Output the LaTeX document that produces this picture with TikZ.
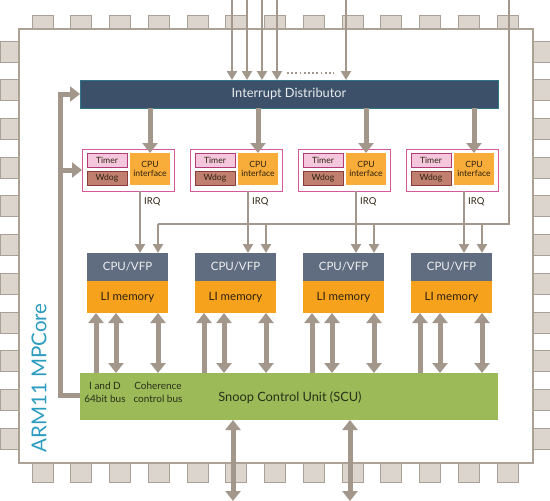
\documentclass[tikz,border=0pt]{standalone}
\usepackage{fontspec}
\setmainfont{Lato}
\usetikzlibrary{arrows.meta}
\definecolor{pinfill}{HTML}{DBD5CE}
\definecolor{pinline}{HTML}{AAA095}
\definecolor{chipline}{HTML}{ACA195}
\definecolor{arrc}{HTML}{A3978B}
\definecolor{distc}{HTML}{3C5169}
\definecolor{cpuc}{HTML}{606D80}
\definecolor{lonec}{HTML}{F6A21D}
\definecolor{cifc}{HTML}{F8AC3A}
\definecolor{timfill}{HTML}{F4C7DC}
\definecolor{timline}{HTML}{B23A78}
\definecolor{wdfill}{HTML}{C1806F}
\definecolor{wdline}{HTML}{8C3B3B}
\definecolor{grpline}{HTML}{D7589A}
\definecolor{scuc}{HTML}{9DBA58}
\definecolor{armc}{HTML}{2C9CC0}
\definecolor{darktxt}{HTML}{2E2210}
\definecolor{scutxt}{HTML}{26301A}
\begin{document}
\begin{tikzpicture}[x=1pt,y=-1pt,
  pin/.style={fill=pinfill,draw=pinline,line width=0.8pt},
  blk/.style={inner sep=0pt,outer sep=0pt,anchor=north west},
  thinarr/.style={draw=arrc,line width=2.2pt,-{Triangle[width=10pt,length=9pt]}},
  thinline/.style={draw=arrc,line width=2.2pt},
  thickarr/.style={draw=arrc,line width=5pt,-{Triangle[width=15pt,length=10pt]}},
  thickdbl/.style={draw=arrc,line width=5pt,{Triangle[width=15pt,length=10pt]}-{Triangle[width=15pt,length=10pt]}},
  lbl/.style={inner sep=0pt,align=center}]
\useasboundingbox (0,0) rectangle (550,501);
% pins
\foreach \k in {0,...,12}{
  \draw[pin] (32+38.75*\k,15) rectangle (53+38.75*\k,29);
  \draw[pin] (32+38.75*\k,463) rectangle (53+38.75*\k,482);
}
\foreach \k in {0,...,10}{
  \draw[pin] (0,41+38.7*\k) rectangle (19,62+38.7*\k);
  \draw[pin] (533,41+38.7*\k) rectangle (551,62+38.7*\k);
}
% chip
\draw[fill=white,draw=chipline,line width=1.2pt] (19,29) rectangle (533,463);
\node[rotate=90,text=armc,font=\fontsize{20.5}{24}\selectfont,inner sep=0pt] (arm) at (39,378) {ARM11 MPCore};
% interrupt distributor
\node[blk,fill=distc,draw=distc!80!cyan,line width=0.6pt,minimum width=418pt,minimum height=28pt] (dist) at (80,80) {};
\node[text=white!88!distc,font=\fontsize{12.8}{14}\selectfont,inner sep=0pt] (disttxt) at (dist.center) {Interrupt Distributor};
% SCU
\node[blk,fill=scuc,minimum width=418pt,minimum height=47pt] (scu) at (80,373) {};
\node[lbl,text=scutxt,font=\fontsize{12.8}{14}\selectfont] (scutxt) at (290,398) {Snoop Control Unit (SCU)};
\node[lbl,text=scutxt,font=\fontsize{10}{13}\selectfont] (iand) at (105,392.5) {I and D\\64bit bus};
\node[lbl,text=scutxt,font=\fontsize{10}{13}\selectfont] (coh) at (158,392.5) {Coherence\\control bus};
% interrupt inputs from top
\foreach \x/\n in {232/a,247/b,262/c,277/d,346/e}{
  \coordinate (in\n) at (\x,0);
  \draw[thinarr] (in\n) -- (in\n |- dist.north);
}
\draw[draw=arrc,line width=1.8pt,dash pattern=on 1.8pt off 2.4pt] (287,73) -- (334,73);
% per-CPU blocks
\foreach \i in {0,1,2,3}{
  \pgfmathsetmacro\gx{82+108*\i}
  \pgfmathsetmacro\cx{87+108*\i}
  \node[blk,draw=grpline,fill=white,line width=1pt,minimum width=92pt,minimum height=42pt] (grp\i) at (\gx,149) {};
  \node[blk,draw=timline,fill=timfill,line width=0.7pt,minimum width=40pt,minimum height=14pt] (tim\i) at (\gx+5,153) {};
  \node[text=darktxt,font=\fontsize{8.6}{9}\selectfont,inner sep=0pt] at (tim\i.center) {Timer};
  \node[blk,draw=wdline,fill=wdfill,line width=0.7pt,minimum width=40pt,minimum height=14pt] (wd\i) at (\gx+5,171) {};
  \node[text=darktxt,font=\fontsize{8.6}{9}\selectfont,inner sep=0pt] at (wd\i.center) {Wdog};
  \node[blk,fill=cifc,minimum width=40pt,minimum height=32pt] (cif\i) at (\gx+48,153) {};
  \node[lbl,text=darktxt,font=\fontsize{8.6}{8.5}\selectfont] at (cif\i.center) {CPU\\interface};
  \node[blk,fill=cpuc,minimum width=81pt,minimum height=28pt] (cpu\i) at (\cx,253) {};
  \node[text=white!90!cpuc,font=\fontsize{11.5}{13}\selectfont,inner sep=0pt] at (cpu\i.center) {CPU/VFP};
  \node[blk,fill=lonec,minimum width=81pt,minimum height=32pt] (lone\i) at (\cx,281) {};
  \node[text=darktxt,font=\fontsize{11.5}{13}\selectfont,inner sep=0pt] at (lone\i.center) {LI memory};
  % distributor to CPU interface
  \draw[thickarr] (cif\i.north |- dist.south) -- (cif\i.north);
  % IRQ
  \coordinate (irq\i) at (\cx+53,0);
  \draw[thinarr] (irq\i |- grp\i.south) -- (irq\i |- cpu\i.north);
  \node[text=darktxt,font=\fontsize{9.5}{10}\selectfont,inner sep=0pt,anchor=west] (irqt\i) at (\cx+57,202) {IRQ};
  % L1 <-> SCU
  \coordinate (ua\i) at (\cx+9,0);
  \coordinate (da\i) at (\cx+29,0);
  \coordinate (ca\i) at (\cx+71,0);
  \draw[thickarr] (ua\i |- scu.north) -- (ua\i |- lone\i.south);
  \draw[thickdbl] (da\i |- scu.north) -- (da\i |- lone\i.south);
  \draw[thickdbl] (ca\i |- scu.north) -- (ca\i |- lone\i.south);
}
% bus from top to each CPU
\coordinate (busin) at (509,0);
\coordinate (buscorner) at (509,224);
\draw[thinline] (busin) -- (buscorner) -- (ca0 |- buscorner);
\foreach \i in {0,1,2,3}{
  \draw[thinarr] (ca\i |- buscorner) -- (ca\i |- cpu\i.north);
}
% left feedback path
\coordinate (lft) at (60,94);
\coordinate (lftb) at (60,170);
\draw[thickarr] (scu.west |- 0,395) -| (lft) -- (dist.west);
\draw[thickarr] (lftb) -- (grp0.west);
% bottom connections
\coordinate (bota) at (233,501);
\coordinate (botb) at (350,501);
\draw[thickdbl] (bota |- scu.south) -- (bota);
\draw[thickdbl] (botb |- scu.south) -- (botb);
\end{tikzpicture}
\end{document}
